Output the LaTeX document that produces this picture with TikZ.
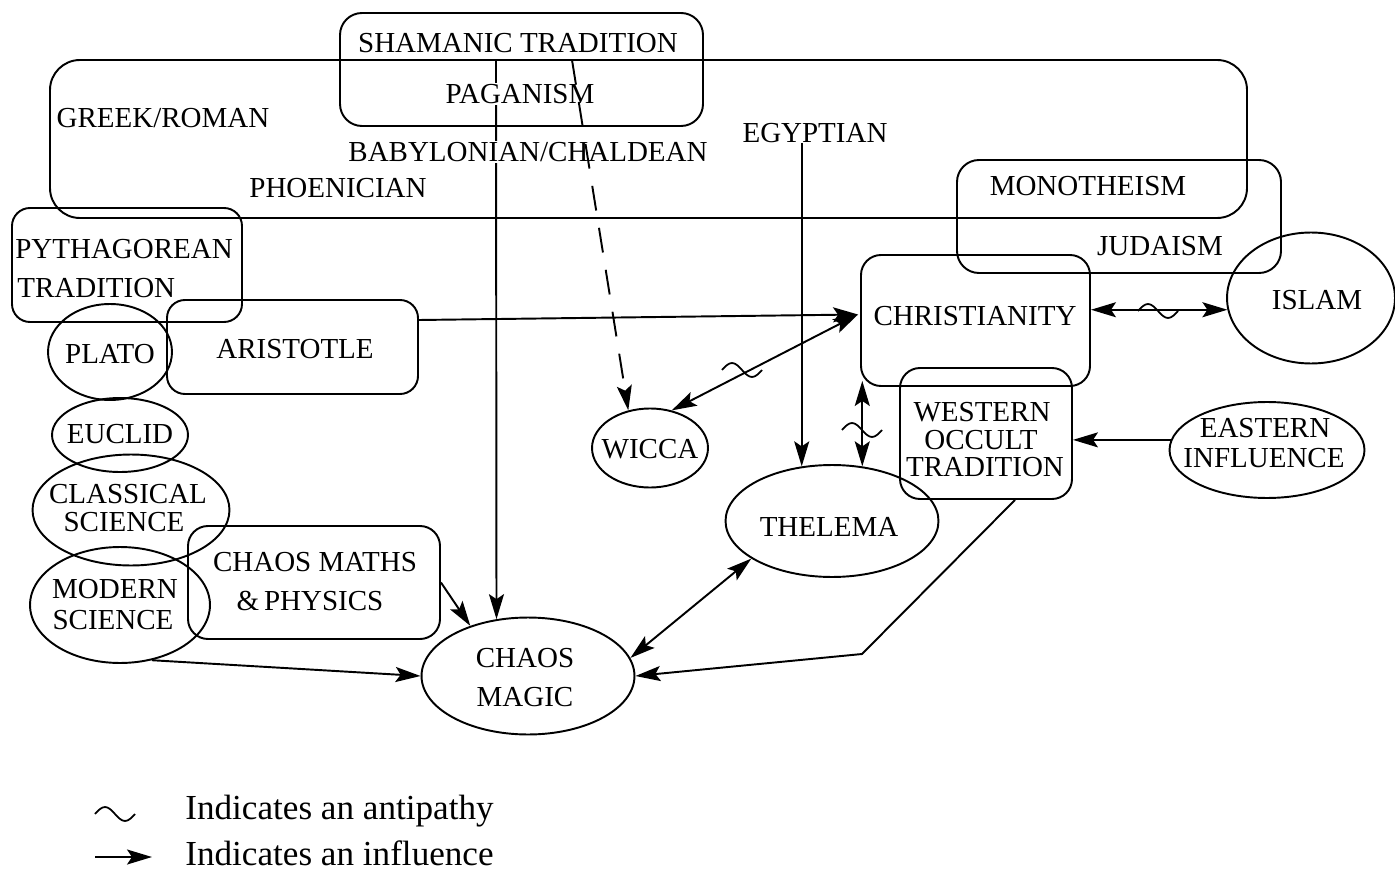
\documentclass[tikz,border=0pt]{standalone}
\usepackage{fontspec}
\setmainfont{Liberation Serif}
\usetikzlibrary{shapes.geometric,arrows.meta,calc,fit}
\newcommand\lblfont{\fontsize{16.5}{18}\selectfont}
\newcommand\legfont{\fontsize{20}{22}\selectfont}
\newcommand\antip[2]{\draw[tld] ({#1-20},#2) sin ++(10,-7) cos ++(10,7) sin ++(10,7) cos ++(10,-7);}
\tikzset{
  box/.style={draw, line width=1.1pt, rectangle, rounded corners=#1, inner sep=0pt},
  ell/.style={draw, line width=1.1pt, ellipse, inner sep=0pt},
  lbl/.style={font=\lblfont, inner sep=0pt, text height=10.9pt, text depth=0pt},
  blank/.style={lbl, fill=white, inner sep=1pt},
  leg/.style={font=\legfont, inner sep=0pt, anchor=base west},
  tip/.tip={Stealth[length=0.5cm,width=0.3cm,inset=0.1cm]},
  arr/.style={line width=1.1pt, -tip},
  darr/.style={line width=1.1pt, tip-tip},
  dsh/.style={line width=1.1pt, -tip, dash pattern=on 0.5cm off 0.35cm},
  tld/.style={line width=1pt},
}
\begin{document}
\begin{tikzpicture}[x=0.02cm,y=-0.02cm]
\useasboundingbox (0,0) rectangle (1395,871);
% ---- rounded boxes
\node[box=0.6cm, fit={(50,60) (1247,218)}] (greek) {};
\node[box=0.44cm, fit={(340,13) (703,126)}] (sham) {};
\node[box=0.44cm, fit={(957,160) (1281,273)}] (mono) {};
\node[box=0.36cm, fit={(12,208) (242,322)}] (pyth) {};
\node[box=0.36cm, fit={(167,300) (418,394)}] (arist) {};
\node[box=0.40cm, fit={(861,255) (1090,386)}] (christ) {};
\node[box=0.40cm, fit={(900,368) (1072,499)}] (west) {};
\node[box=0.40cm, fit={(188,526) (440,639)}] (cmaths) {};
% ---- ellipses
\node[ell, minimum width=2.48cm, minimum height=1.92cm] (plato) at (110,352) {};
\node[ell, minimum width=2.72cm, minimum height=1.48cm] (euclid) at (120,435) {};
\node[ell, minimum width=3.94cm, minimum height=2.22cm] (classic) at (131,510) {};
\node[ell, minimum width=3.60cm, minimum height=2.32cm] (modern) at (120,605) {};
\node[ell, minimum width=4.26cm, minimum height=2.34cm] (chaos) at (528,676) {};
\node[ell, minimum width=2.32cm, minimum height=1.58cm] (wicca) at (650,448) {};
\node[ell, minimum width=4.26cm, minimum height=2.24cm] (thelema) at (832,521) {};
\node[ell, minimum width=3.36cm, minimum height=2.62cm] (islam) at (1311,298) {};
\node[ell, minimum width=3.90cm, minimum height=1.92cm] (east) at (1267,450) {};
% ---- long influence line that passes behind labels
\coordinate (pstart) at (496,60);
\coordinate (dstart) at (572,60);
\draw[arr] (pstart) -- (chaos.119);
% ---- labels
\node[lbl] (tsham) at (518,43) {SHAMANIC TRADITION};
\node[blank] (tpagan) at (520,94) {PAGANISM};
\node[lbl] (tgreek) at (163,118) {GREEK/ROMAN};
\node[blank] (tbaby) at (528,152) {BABYLONIAN/CHALDEAN};
\node[lbl] (tphoen) at (338,188) {PHOENICIAN};
\node[lbl] (tegypt) at (815,133) {EGYPTIAN};
\node[lbl] (tmono) at (1088,186) {MONOTHEISM};
\node[lbl] (tjuda) at (1160,246) {JUDAISM};
\node[lbl, anchor=west] (tpyth1) at (15,249) {PYTHAGOREAN};
\node[lbl, anchor=west] (tpyth2) at (17,288) {TRADITION};
\node[lbl] (tplato) at (110,354) {PLATO};
\node[lbl] (tarist) at (295,349) {ARISTOTLE};
\node[lbl] (teuclid) at (120,434) {EUCLID};
\node[lbl] (tclass1) at (128,494) {CLASSICAL};
\node[lbl] (tclass2) at (124,522) {SCIENCE};
\node[lbl] (tmod1) at (115,589) {MODERN};
\node[lbl] (tmod2) at (113,620) {SCIENCE};
\node[lbl] (tcm1) at (315,562) {CHAOS MATHS};
\node[lbl] (tcm2) at (310,601) {\&\,PHYSICS};
\node[lbl] (tchaos1) at (525,658) {CHAOS};
\node[lbl] (tchaos2) at (525,697) {MAGIC};
\node[lbl] (twicca) at (650,449) {WICCA};
\node[lbl] (tthel) at (829,527) {THELEMA};
\node[lbl] (tchrist) at (975,316) {CHRISTIANITY};
\node[lbl] (twest1) at (982,412) {WESTERN};
\node[lbl] (twest2) at (981,440) {OCCULT};
\node[lbl] (twest3) at (985,467) {TRADITION};
\node[lbl] (tislam) at (1317,300) {ISLAM};
\node[lbl] (teast1) at (1265,428) {EASTERN};
\node[lbl] (teast2) at (1264,458) {INFLUENCE};
% ---- other connectors
\draw[dsh] (dstart) -- (wicca.120);
\draw[arr] (tegypt.south -| thelema.119) -- (thelema.119);
\draw[arr] ([shift={(0,-27)}]arist.east) -- ([shift={(-2,-6)}]christ.west);
\draw[darr] ([shift={(-2,-6)}]christ.west) -- (wicca.60);
\draw[darr] ($(thelema.61 |- christ.south)+(0,-6)$) -- (thelema.61);
\draw[darr] (christ.east |- islam.188) -- (islam.188);
\draw[arr] (east.174) -- (west.east |- east.174);
\coordinate (bend) at (862,654);
\draw[arr] ([shift={(29,0)}]west.south) -- (bend) -- (chaos.east);
\draw[darr] (thelema.205) -- (chaos.10);
\draw[arr] (cmaths.east) -- (chaos.139);
\draw[arr] (modern.-60) -- (chaos.west);
% ---- antipathy marks
\antip{742}{370}
\antip{862}{430}
\antip{1158}{311}
% ---- legend
\antip{115}{814}
\coordinate (legA) at (95,857);
\coordinate (legB) at (152,857);
\draw[arr] (legA) -- (legB);
\node[leg] (leg1) at (185,819) {Indicates an antipathy};
\node[leg] (leg2) at (185,865) {Indicates an influence};
\end{tikzpicture}
\end{document}
